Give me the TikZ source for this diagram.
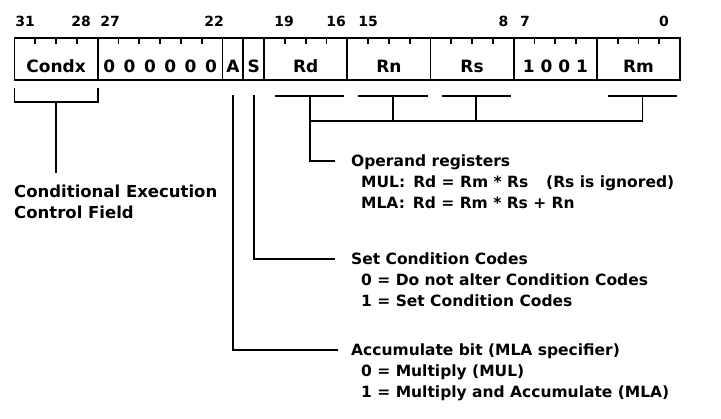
\documentclass[tikz,border=0pt]{standalone}
\usepackage{fontspec}
\setmainfont{DejaVu Sans}
\usetikzlibrary{positioning}

\begin{document}
\begin{tikzpicture}[
    x=1pt, y=-1pt,
    field/.style={draw, line width=1.9pt, outer sep=0pt, inner sep=0pt, minimum height=42pt, text height=28pt, text depth=0pt, font=\fontsize{17}{17}\selectfont\bfseries},
    bitnum/.style={anchor=base, inner sep=0pt, font=\fontsize{14}{14}\selectfont\bfseries},
    note/.style={anchor=base west, align=left, inner sep=0pt, font=\fontsize{15.5}{21}\selectfont\bfseries},
    link/.style={line width=1.8pt}
]
\useasboundingbox (0,0) rectangle (721,419);

% instruction word
\node[field, minimum width=83.2pt, anchor=north west] (condx) at (14.5,38) {Condx};
\node[field, minimum width=124.8pt, right=0pt of condx] (zeros) {\spaceskip=8.5pt 0 0 0 0 0 0};
\node[field, minimum width=20.8pt, right=0pt of zeros] (abit) {A};
\node[field, minimum width=20.8pt, right=0pt of abit] (sbit) {S};
\node[field, minimum width=83.2pt, right=0pt of sbit] (rd) {Rd};
\node[field, minimum width=83.2pt, right=0pt of rd] (rn) {Rn};
\node[field, minimum width=83.2pt, right=0pt of rn] (rs) {Rs};
\node[field, minimum width=83.2pt, right=0pt of rs] (mulcode) {1 0 0 1};
\node[field, minimum width=83.2pt, right=0pt of mulcode] (rm) {Rm};
\foreach \k in {1,...,31}
    \draw[link] (14.5+\k*20.8,38) -- ++(0,6);

% bit positions
\node[bitnum] (n31) at (25,26.5) {31};
\node[bitnum] (n28) at (81,26.5) {28};
\node[bitnum] (n27) at (110,26.5) {27};
\node[bitnum] (n22) at (214,26.5) {22};
\node[bitnum] (n19) at (284,26.5) {19};
\node[bitnum] (n16) at (336,26.5) {16};
\node[bitnum] (n15) at (368,26.5) {15};
\node[bitnum] (n8) at (503.5,26.5) {8};
\node[bitnum] (n7) at (525,26.5) {7};
\node[bitnum] (n0) at (664,26.5) {0};

% field notes (base = last line)
\node[note, font=\fontsize{16.5}{21}\selectfont\bfseries] (condlbl) at (14,219) {Conditional Execution\\Control Field};
\node[note] (oplbl) at (351,208.6) {Operand registers\\
    \hspace*{10pt}\makebox[185pt][l]{MUL:\hspace{8pt}Rd = Rm * Rs}(Rs is ignored)\\
    \hspace*{10pt}MLA:\hspace{8pt}Rd = Rm * Rs + Rn};
\node[note] (setlbl) at (351,306.6) {Set Condition Codes\\
    \hspace*{10pt}0 = Do not alter Condition Codes\\
    \hspace*{10pt}1 = Set Condition Codes};
\node[note] (acclbl) at (351,397.6) {Accumulate bit (MLA specifier)\\
    \hspace*{10pt}0 = Multiply (MUL)\\
    \hspace*{10pt}1 = Multiply and Accumulate (MLA)};

% brackets and leaders
\draw[link] ([yshift=-8pt]condx.south west) -- ++(0,14) -| ([yshift=-8pt]condx.south east);
\draw[link] ([yshift=-22pt]condx.south) -- ++(0,71);
\foreach \f in {rd,rn,rs,rm} {
    \draw[link] ([xshift=11pt,yshift=-16pt]\f.south west) -- ([xshift=-3pt,yshift=-16pt]\f.south east);
    \coordinate (\f-stem) at ([xshift=4pt,yshift=-16pt]\f.south);
    \draw[link] (\f-stem) -- ++(0,25);
}
\draw[link] ([yshift=-25pt]rd-stem) -- ([yshift=-25pt]rm-stem);
\draw[link] (rd-stem) |- ([xshift=-16pt,yshift=47.6pt]oplbl.base west);
\draw[link] ([yshift=-15pt]sbit.south) |- ([xshift=-16pt,yshift=47.6pt]setlbl.base west);
\draw[link] ([yshift=-15pt]abit.south) |- ([xshift=-13pt,yshift=47.6pt]acclbl.base west);
\end{tikzpicture}
\end{document}
